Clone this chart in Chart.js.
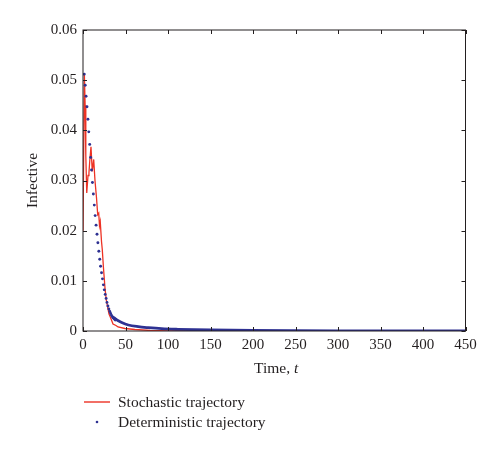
<!DOCTYPE html>
<html>
<head>
<meta charset="utf-8">
<script src="https://cdn.jsdelivr.net/npm/chart.js@4.4.0/dist/chart.umd.min.js"></script>
<style>
  html, body { margin: 0; padding: 0; background: #fff; }
  #wrap { position: relative; width: 500px; height: 454px; overflow: hidden; font-family: "Liberation Serif", "DejaVu Serif", serif; color: #231f20; }
  #c { position: absolute; left: 0; top: 0; }
  .lbl { position: absolute; white-space: nowrap; font-size: 15.5px; line-height: 1; }
  #xt { left: 254px; top: 360px; }
  .leg { position: absolute; left: 118px; font-size: 15.5px; line-height: 1; white-space: nowrap; }
  #l1 { top: 394px; }
  #l2 { top: 414px; }
  #sw { position: absolute; left: 0; top: 390px; }
</style>
</head>
<body>
<div id="wrap">
  <canvas id="c" width="500" height="454"></canvas>
  <div class="lbl" id="xt">Time, <i>t</i></div>
  <svg id="sw" width="120" height="40" viewBox="0 0 120 40">
    <line x1="84" y1="12" x2="110" y2="12" stroke="rgb(237,50,36)" stroke-width="1.4"/>
    <circle cx="97" cy="32" r="1.3" fill="rgb(46,49,146)"/>
  </svg>
  <div class="leg" id="l1">Stochastic trajectory</div>
  <div class="leg" id="l2">Deterministic trajectory</div>
</div>
<script>
// Stochastic trajectory (time, infective)
const stochT = [0, 1.6, 2.5, 3.3, 4.4, 5.9, 7.0, 8.0, 9.4, 10.9, 12.6, 14.1, 15.9, 17.3, 18.5, 19.4, 20.3, 21.8, 22.7, 24.1, 25.9, 27.4, 29.4, 30.6, 32.1, 33.5, 35.3, 38.8, 41.2, 49.4, 61, 79, 102, 450];
const stochI = [0.020, 0.0512, 0.045, 0.035, 0.0275, 0.031, 0.0315, 0.034, 0.0367, 0.0318, 0.0342, 0.030, 0.0265, 0.0232, 0.0235, 0.021, 0.0218, 0.0178, 0.0162, 0.0125, 0.0085, 0.0062, 0.0044, 0.0034, 0.0028, 0.0022, 0.0014, 0.0011, 0.0008, 0.0005, 0.0003, 0.0001, 0, 0];

// Deterministic trajectory, solver points (dots)
const detT = [1.5, 2.6, 3.6, 4.7, 5.8, 6.8, 7.9, 9.0, 10.0, 11.1, 12.2, 13.3, 14.3, 15.4, 16.5, 17.5, 18.6, 19.7, 20.7, 21.8, 22.9, 24.0, 25.0, 26.1, 27.2, 28.2, 29.3, 30.4, 31.5, 32.5, 33.6, 34.7, 35.7, 36.8, 37.9];
const detI = [0.0512, 0.0490, 0.0468, 0.0447, 0.0422, 0.0397, 0.0372, 0.0346, 0.0321, 0.0296, 0.0273, 0.0251, 0.0230, 0.0211, 0.0193, 0.0176, 0.0159, 0.0143, 0.0129, 0.0116, 0.0104, 0.0092, 0.0082, 0.0073, 0.0065, 0.0057, 0.0050, 0.0044, 0.0039, 0.0035, 0.0031, 0.0028, 0.0026, 0.0024, 0.0022];

// Deterministic trajectory tail, where the dots merge into a solid band
const tailT = [34.7, 37.6, 41, 45.5, 53.3, 65, 76.8, 92.5, 111.7, 150, 200, 250, 300, 450];
const tailI = [0.0028, 0.0025, 0.0021, 0.0017, 0.0012, 0.00086, 0.00066, 0.00046, 0.00034, 0.0002, 0.0001, 0.00006, 0.00004, 0.00002];

const xTicks = [0, 50, 100, 150, 200, 250, 300, 350, 400, 450];
const yTicks = [0, 0.01, 0.02, 0.03, 0.04, 0.05, 0.06];

const RED = 'rgb(237,50,36)';
const BLUE = 'rgb(46,49,146)';
const INK = '#231f20';
const pts = (xs, ys) => xs.map((x, i) => ({ x: x, y: ys[i] }));

const framePlugin = {
  id: 'frame',
  afterDraw(chart) {
    const ctx = chart.ctx, a = chart.chartArea;
    const xs = chart.scales.x, ys = chart.scales.y;
    ctx.save();
    ctx.strokeStyle = INK;
    ctx.lineWidth = 1;
    ctx.strokeRect(a.left, a.top, a.right - a.left, a.bottom - a.top);
    const L = 4;
    ctx.beginPath();
    xTicks.forEach(v => {
      const px = Math.round(xs.getPixelForValue(v)) + 0.5;
      ctx.moveTo(px, a.bottom); ctx.lineTo(px, a.bottom - L);
      ctx.moveTo(px, a.top); ctx.lineTo(px, a.top + L);
    });
    yTicks.forEach(v => {
      const py = Math.round(ys.getPixelForValue(v)) + 0.5;
      ctx.moveTo(a.left, py); ctx.lineTo(a.left + L, py);
      ctx.moveTo(a.right, py); ctx.lineTo(a.right - L, py);
    });
    ctx.stroke();
    ctx.restore();
  }
};

const FAMILY = '"Liberation Serif", "DejaVu Serif", serif';
const tickFont = { family: FAMILY, size: 15 };

new Chart(document.getElementById('c'), {
  type: 'scatter',
  data: {
    datasets: [
      { label: 'Deterministic trajectory', data: pts(detT, detI), showLine: false,
        pointRadius: 1.45, pointBackgroundColor: BLUE, pointBorderWidth: 0, pointBorderColor: BLUE },
      { label: 'Deterministic tail', data: pts(tailT, tailI), showLine: true,
        borderColor: BLUE, borderWidth: 2.8, pointRadius: 0, cubicInterpolationMode: 'monotone' },
      { label: 'Stochastic trajectory', data: pts(stochT, stochI), showLine: true,
        borderColor: RED, borderWidth: 1.3, pointRadius: 0, tension: 0 }
    ]
  },
  options: {
    responsive: false,
    animation: false,
    devicePixelRatio: 1,
    layout: { padding: { left: 0, right: 34.5, top: 30, bottom: 0 } },
    plugins: { legend: { display: false }, tooltip: { enabled: false } },
    scales: {
      x: {
        type: 'linear', position: 'bottom', min: 0, max: 450,
        afterBuildTicks: s => { s.ticks = xTicks.map(v => ({ value: v })); },
        ticks: { font: tickFont, color: INK, padding: 5, maxRotation: 0, autoSkip: false,
                 callback: v => String(v) },
        grid: { display: false, drawTicks: false },
        border: { display: false },
        afterFit: s => { s.height = 123; }
      },
      y: {
        type: 'linear', position: 'left', min: 0, max: 0.06,
        afterBuildTicks: s => { s.ticks = yTicks.map(v => ({ value: v })); },
        ticks: { font: tickFont, color: INK, padding: 6, autoSkip: false,
                 callback: v => (v === 0 ? '0' : Number(v).toFixed(2)) },
        title: { display: true, text: 'Infective', color: INK,
                 font: { family: FAMILY, size: 15.5 }, padding: { top: 23.7, bottom: 0 } },
        grid: { display: false, drawTicks: false },
        border: { display: false },
        afterFit: s => { s.width = 83; }
      }
    }
  },
  plugins: [framePlugin]
});
</script>
</body>
</html>
